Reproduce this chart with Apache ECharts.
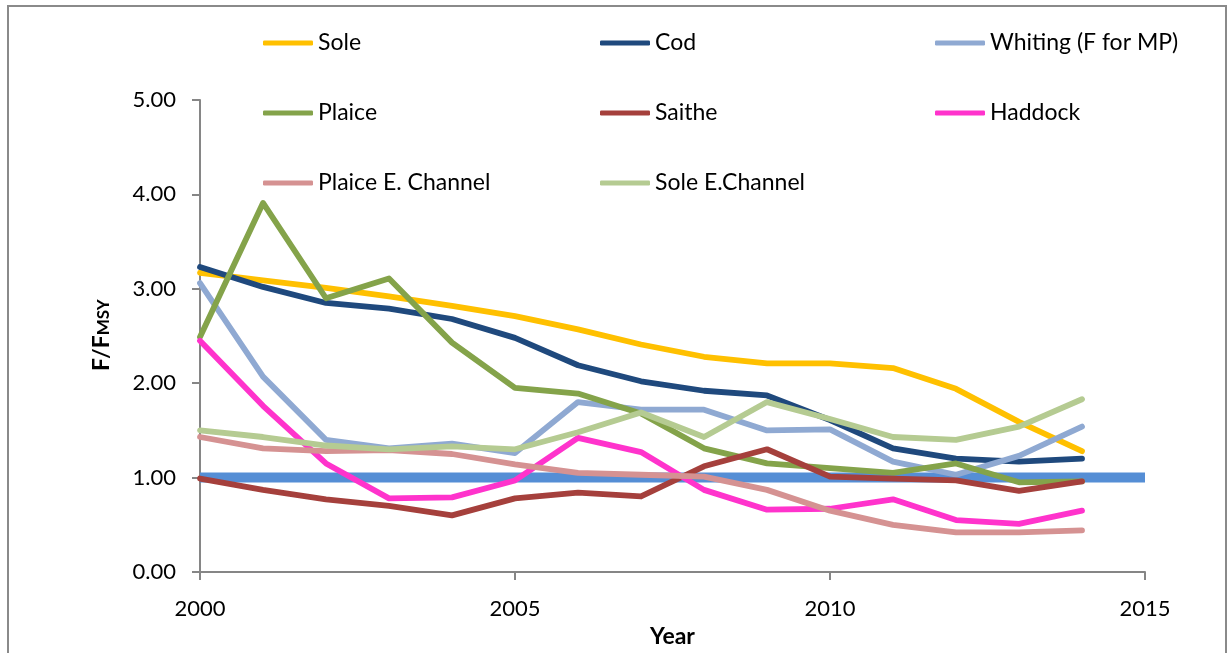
<!DOCTYPE html>
<html>
<head>
<meta charset="utf-8">
<style>
  html, body { margin: 0; padding: 0; background: #ffffff; }
  #chart { width: 1227px; height: 653px; }
</style>
<script src="https://cdn.jsdelivr.net/npm/echarts@6/dist/echarts.min.js"></script>
</head>
<body>
<div id="chart"></div>
<script>
// Fishing mortality relative to FMSY, by stock, 2000-2014
const years = [2000, 2001, 2002, 2003, 2004, 2005, 2006, 2007, 2008, 2009, 2010, 2011, 2012, 2013, 2014];

const sole          = [3.17, 3.09, 3.01, 2.92, 2.82, 2.71, 2.57, 2.41, 2.28, 2.21, 2.21, 2.16, 1.94, 1.59, 1.28];
const cod           = [3.23, 3.02, 2.85, 2.79, 2.68, 2.48, 2.19, 2.02, 1.92, 1.87, 1.61, 1.31, 1.20, 1.17, 1.20];
const whiting       = [3.06, 2.07, 1.40, 1.31, 1.36, 1.26, 1.80, 1.72, 1.72, 1.50, 1.51, 1.17, 1.03, 1.23, 1.54];
const plaice        = [2.49, 3.91, 2.90, 3.11, 2.43, 1.95, 1.89, 1.68, 1.31, 1.15, 1.10, 1.05, 1.15, 0.95, 0.96];
const saithe        = [0.99, 0.87, 0.77, 0.70, 0.60, 0.78, 0.84, 0.80, 1.12, 1.30, 1.01, 0.99, 0.97, 0.86, 0.96];
const haddock       = [2.45, 1.76, 1.15, 0.78, 0.79, 0.97, 1.42, 1.27, 0.87, 0.66, 0.67, 0.77, 0.55, 0.51, 0.65];
const plaiceEChan   = [1.43, 1.31, 1.28, 1.29, 1.25, 1.14, 1.05, 1.03, 1.01, 0.87, 0.65, 0.50, 0.42, 0.42, 0.44];
const soleEChan     = [1.50, 1.43, 1.34, 1.30, 1.33, 1.30, 1.48, 1.69, 1.43, 1.80, 1.62, 1.43, 1.40, 1.54, 1.83];

// FMSY reference level
const refYears = [2000, 2015];
const refValue = 1.0;

const stockNames = ['Sole', 'Cod', 'Whiting (F for MP)', 'Plaice', 'Saithe', 'Haddock', 'Plaice E. Channel', 'Sole E.Channel'];
const stockValues = [sole, cod, whiting, plaice, saithe, haddock, plaiceEChan, soleEChan];
const stockColors = ['#FFC000', '#1F497D', '#8FA9D2', '#84A34A', '#A5403C', '#FF33CC', '#D59292', '#B5CB92'];

const FONT = 'Lato, "Open Sans", sans-serif';

const pairs = (xs, ys) => xs.map((x, i) => [x, ys[i]]);

const series = [{
  name: 'FMSY',
  type: 'line',
  data: refYears.map(y => [y, refValue]),
  symbol: 'none',
  lineStyle: { color: '#558ED5', width: 10, cap: 'butt' },
  silent: true,
  z: 1
}];
stockNames.forEach((name, i) => {
  series.push({
    name: name,
    type: 'line',
    data: pairs(years, stockValues[i]),
    symbol: 'none',
    itemStyle: { color: stockColors[i] },
    lineStyle: { color: stockColors[i], width: 5.8, cap: 'round', join: 'round' },
    z: 2 + i
  });
});

const legendBase = {
  orient: 'vertical',
  top: 25,
  itemWidth: 50,
  itemHeight: 5,
  itemGap: 44,
  icon: 'roundRect',
  selectedMode: false,
  textStyle: { fontFamily: FONT, fontSize: 23, color: '#000', lineHeight: 26, padding: [0, 0, 0, 0] }
};

const chart = echarts.init(document.getElementById('chart'), null, { renderer: 'canvas' });
chart.setOption({
  animation: false,
  backgroundColor: '#ffffff',
  grid: { left: 200, right: 82, top: 100, bottom: 81 },
  legend: [
    Object.assign({}, legendBase, { left: 258, data: ['Sole', 'Plaice', 'Plaice E. Channel'] }),
    Object.assign({}, legendBase, { left: 595, data: ['Cod', 'Saithe', 'Sole E.Channel'] }),
    Object.assign({}, legendBase, { left: 930, data: ['Whiting (F for MP)', 'Haddock'] })
  ],
  xAxis: {
    type: 'value',
    min: 2000,
    max: 2015,
    interval: 5,
    name: 'Year',
    nameLocation: 'middle',
    nameGap: 50,
    nameTextStyle: { fontFamily: FONT, fontSize: 23, fontWeight: 'bold', color: '#000' },
    axisLine: { lineStyle: { color: '#868686', width: 2 } },
    axisTick: { show: true, length: 8, inside: false, lineStyle: { color: '#868686', width: 2 } },
    axisLabel: { fontFamily: FONT, fontSize: 22, color: '#000', margin: 26, formatter: v => String(v) },
    splitLine: { show: false }
  },
  yAxis: {
    type: 'value',
    min: 0,
    max: 5,
    interval: 1,
    axisLine: { show: true, lineStyle: { color: '#868686', width: 2 } },
    axisTick: { show: true, length: 8, inside: false, lineStyle: { color: '#868686', width: 2 } },
    axisLabel: { fontFamily: FONT, fontSize: 22, color: '#000', margin: 24, formatter: v => v.toFixed(2) },
    splitLine: { show: false }
  },
  graphic: [
    {
      type: 'rect',
      shape: { x: 8, y: 6, width: 1218, height: 700 },
      style: { fill: 'none', stroke: '#8a8a8a', lineWidth: 2 },
      silent: true,
      z: 0
    },
    {
      type: 'text',
      x: 102,
      y: 335,
      rotation: Math.PI / 2,
      style: {
        text: '{b|F/F}{s|MSY}',
        align: 'center',
        verticalAlign: 'middle',
        rich: {
          b: { fontFamily: FONT, fontSize: 23, fontWeight: 'bold', fill: '#000' },
          s: { fontFamily: FONT, fontSize: 17, fontWeight: 'bold', fill: '#000', padding: [4, 0, 0, 0] }
        }
      }
    }
  ],
  series: series
});
</script>
</body>
</html>
